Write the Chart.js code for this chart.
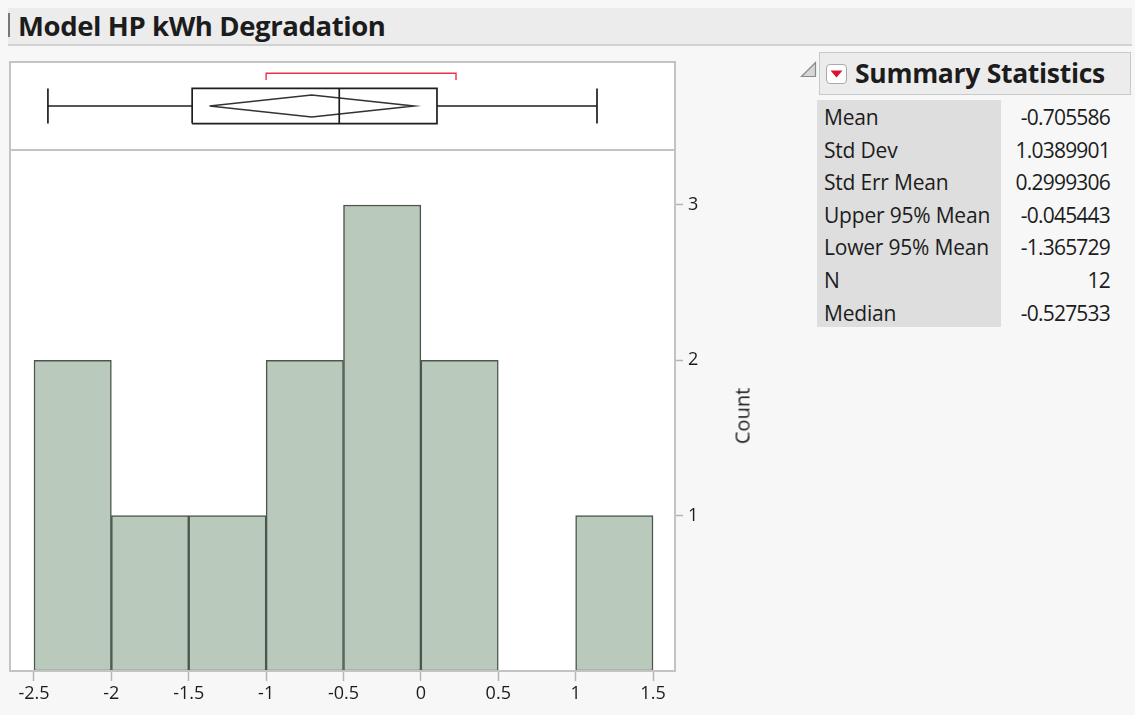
<!DOCTYPE html>
<html>
<head>
<meta charset="utf-8">
<script src="https://cdn.jsdelivr.net/npm/chart.js@4.4.1/dist/chart.umd.min.js"></script>
<style>
  html, body { margin: 0; padding: 0; }
  body { width: 1135px; height: 715px; background: #f7f7f7; position: relative; overflow: hidden;
         font-family: "Open Sans", "Noto Sans", sans-serif; color: #1c1c1c; }
  .abs { position: absolute; }
  #titleBar { left: 8px; top: 8px; width: 1124px; height: 36px; background: #ececec;
              border-bottom: 2px solid #d2d2d2; }
  #titleBar .mark { position: absolute; left: 0; top: 5px; width: 2px; height: 24px; background: #777; }
  #titleBar .txt { position: absolute; left: 10px; top: 0; line-height: 36px; font-size: 27.5px; font-weight: 700;
                   letter-spacing: -0.4px; }
  #boxCanvasWrap { left: 0; top: 60px; width: 790px; height: 90px; }
  #histCanvasWrap { left: 0; top: 150px; width: 790px; height: 565px; }
  #countLabel { left: 742px; top: 416px; font-size: 20px; transform: translate(-50%, -50%) rotate(-90deg);
                white-space: nowrap; }
  #statsHead { left: 819px; top: 52px; width: 310px; height: 41px; background: #ececec; border: 1.5px solid #c9c9c9; }
  #statsHead .btn { position: absolute; left: 6px; top: 11px; width: 21px; height: 20px; background: #fff;
                    border: 1px solid #a9a9a9; border-radius: 4px; box-sizing: border-box; }
  #statsHead .btn svg { position: absolute; left: 3px; top: 5px; }
  #statsHead .txt { position: absolute; left: 35px; top: 0; line-height: 41px; font-size: 26.5px; font-weight: 700;
                    letter-spacing: -0.3px; }
  #statsTable { left: 817px; top: 100px; }
  #statsTable .lab { position: absolute; left: 0; top: 0; width: 184px; height: 227px; background: #dedede; }
  .row { position: absolute; height: 32px; line-height: 32px; font-size: 21px; }
  .row .k { position: absolute; left: 7px; white-space: nowrap; letter-spacing: -0.2px; }
  .row .v { position: absolute; right: 0; white-space: nowrap; letter-spacing: -0.8px; }
</style>
</head>
<body>
<div id="titleBar" class="abs"><div class="mark"></div><div class="txt">Model HP kWh Degradation</div></div>

<div id="boxCanvasWrap" class="abs"><canvas id="boxChart" width="790" height="90"></canvas></div>
<div id="histCanvasWrap" class="abs"><canvas id="histChart" width="790" height="565"></canvas></div>
<div id="countLabel" class="abs">Count</div>

<svg class="abs" style="left:800px;top:61px" width="17" height="17">
  <polygon points="15.5,1.5 15.5,15.5 1.5,15.5" fill="#d6d6d6" stroke="#8a8a8a" stroke-width="1.2"/>
</svg>
<div id="statsHead" class="abs">
  <div class="btn"><svg width="13" height="8"><polygon points="0.5,0.5 12.5,0.5 6.5,7.5" fill="#e0102a"/></svg></div>
  <div class="txt">Summary Statistics</div>
</div>
<div id="statsTable" class="abs"><div class="lab"></div></div>

<script>
// Histogram bins (centres, bin width 0.5) and their counts
const binCenters = [-2.25, -1.75, -1.25, -0.75, -0.25, 0.25, 0.75, 1.25];
const binCounts  = [2, 1, 1, 2, 3, 2, 0, 1];

// Axis tick values
const xTickValues = [-2.5, -2, -1.5, -1, -0.5, 0, 0.5, 1, 1.5];
const yTickValues = [1, 2, 3];

// Outlier box plot: five-number summary, mean diamond, shortest half
const quantiles = { min: -2.41, q1: -1.478, median: -0.527533, q3: 0.104, max: 1.138 };
const meanCI = { mean: -0.705586, lower: -1.365729, upper: -0.045443 };
const shortestHalf = [-1.0, 0.227];

// Summary statistics table
const statNames  = ["Mean", "Std Dev", "Std Err Mean", "Upper 95% Mean", "Lower 95% Mean", "N", "Median"];
const statValues = ["-0.705586", "1.0389901", "0.2999306", "-0.045443", "-1.365729", "12", "-0.527533"];

// ---- shared horizontal range of both panels
const X_MIN = -2.655, X_MAX = 1.642;
const FONT = "'Open Sans', 'Noto Sans', sans-serif";

// keep the plot area edges fixed: no extra room for tick label overhang
const noOverhang = s => { s.paddingTop = 0; s.paddingBottom = 0; s.paddingLeft = 0; s.paddingRight = 0; };

// draws the white plot area and its grey frame
const frame = {
  id: 'frame',
  beforeDraw(chart) {
    const { ctx, chartArea: a } = chart;
    ctx.save();
    ctx.fillStyle = '#ffffff';
    ctx.fillRect(a.left, a.top, a.right - a.left, a.bottom - a.top);
    ctx.restore();
  },
  afterDraw(chart) {
    const { ctx, chartArea: a } = chart;
    ctx.save();
    ctx.strokeStyle = '#c3c3c3';
    ctx.lineWidth = 2;
    ctx.strokeRect(a.left, a.top, a.right - a.left, a.bottom - a.top);
    ctx.restore();
  }
};

// ---- box plot panel
const BOX_LO = 0.3, BOX_HI = 0.7, MID = 0.5, DIA = 0.125, BR_Y = 0.872, BR_TICK = 0.795;
const seg = (pts, color, width) => ({
  type: 'scatter', data: pts.map(p => ({ x: p[0], y: p[1] })), showLine: true,
  borderColor: color, borderWidth: width, pointRadius: 0, pointHoverRadius: 0, fill: false, tension: 0
});
const q = quantiles;
new Chart(document.getElementById('boxChart'), {
  type: 'scatter',
  data: {
    datasets: [
      seg([[q.min, MID], [q.q1, MID]], '#1e1e1e', 1.7),
      seg([[q.q3, MID], [q.max, MID]], '#1e1e1e', 1.7),
      seg([[q.min, BOX_LO], [q.min, BOX_HI]], '#1e1e1e', 1.7),
      seg([[q.max, BOX_LO], [q.max, BOX_HI]], '#1e1e1e', 1.7),
      seg([[q.q1, BOX_LO], [q.q3, BOX_LO], [q.q3, BOX_HI], [q.q1, BOX_HI], [q.q1, BOX_LO]], '#1e1e1e', 1.7),
      seg([[q.median, BOX_LO], [q.median, BOX_HI]], '#1e1e1e', 1.7),
      seg([[meanCI.lower, MID], [meanCI.mean, MID + DIA], [meanCI.upper, MID], [meanCI.mean, MID - DIA], [meanCI.lower, MID]], '#333333', 1.6),
      seg([[shortestHalf[0], BR_TICK], [shortestHalf[0], BR_Y], [shortestHalf[1], BR_Y], [shortestHalf[1], BR_TICK]], '#e8344a', 1.4)
    ]
  },
  options: {
    responsive: false, animation: false, events: [],
    layout: { padding: { left: 10, right: 115, top: 2, bottom: 0 } },
    plugins: { legend: { display: false }, tooltip: { enabled: false } },
    scales: {
      x: { type: 'linear', min: X_MIN, max: X_MAX, display: false },
      y: { type: 'linear', min: 0, max: 1, display: false }
    }
  },
  plugins: [frame]
});

// ---- histogram panel
new Chart(document.getElementById('histChart'), {
  type: 'bar',
  data: {
    datasets: [{
      data: binCenters.map((c, i) => ({ x: c, y: binCounts[i] })),
      backgroundColor: '#b9c9bb',
      borderColor: '#4c564d',
      borderWidth: ctx => (ctx.raw && ctx.raw.y > 0 ? 1.5 : 0),
      borderSkipped: false,
      barPercentage: 1.0,
      categoryPercentage: 1.0
    }]
  },
  options: {
    responsive: false, animation: false, events: [],
    layout: { padding: { left: 10, right: 0, top: 0, bottom: 0 } },
    plugins: { legend: { display: false }, tooltip: { enabled: false } },
    scales: {
      x: {
        type: 'linear', min: X_MIN, max: X_MAX, offset: false,
        afterBuildTicks: s => { s.ticks = xTickValues.map(v => ({ value: v })); },
        afterFit: s => { s.height = 44; noOverhang(s); },
        grid: { display: true, drawOnChartArea: false, drawTicks: true, tickLength: 10, tickWidth: 1.5,
                color: '#b5b5b5', offset: false },
        border: { display: true, color: '#c3c3c3', width: 2 },
        ticks: { padding: 2, color: '#1c1c1c', maxRotation: 0, autoSkip: false,
                 font: { family: FONT, size: 18 }, callback: v => String(v) }
      },
      y: {
        type: 'linear', position: 'right', min: 0, max: 3.354,
        afterBuildTicks: s => { s.ticks = yTickValues.map(v => ({ value: v })); },
        afterFit: s => { s.width = 115; noOverhang(s); },
        grid: { display: true, drawOnChartArea: false, drawTicks: true, tickLength: 8, tickWidth: 1.5,
                color: '#b5b5b5' },
        border: { display: true, color: '#c3c3c3', width: 2 },
        ticks: { padding: 5, color: '#1c1c1c', font: { family: FONT, size: 18 }, callback: v => String(v) }
      }
    }
  },
  plugins: [frame]
});

// ---- summary statistics rows
const table = document.getElementById('statsTable');
statNames.forEach((name, i) => {
  const r = document.createElement('div');
  r.className = 'row';
  r.style.top = (1 + i * 32.6) + 'px';
  r.style.left = '0px';
  r.style.width = '293px';
  r.innerHTML = '<span class="k"></span><span class="v"></span>';
  r.querySelector('.k').textContent = name;
  r.querySelector('.v').textContent = statValues[i];
  table.appendChild(r);
});
</script>
</body>
</html>
